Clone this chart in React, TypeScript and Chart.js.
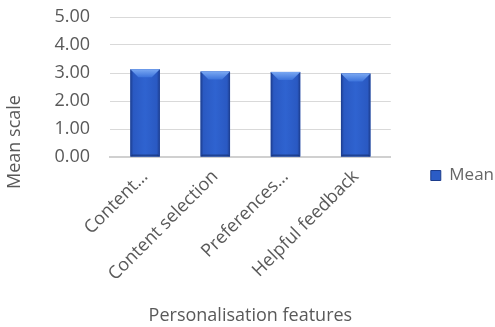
import React, { useEffect, useRef } from "react";
import { Chart, registerables } from "chart.js";

Chart.register(...registerables);

const categories = ["Content…", "Content selection", "Preferences…", "Helpful feedback"];
const meanValues = [3.13, 3.05, 3.04, 2.98];
const seriesName = "Mean";
const yMin = 0;
const yMax = 5;
const yStep = 1;
const xTitle = "Personalisation features";
const yTitle = "Mean scale";

const FONT = "'Open Sans', sans-serif";
const TEXT = "#595959";
const FS = 18;

const bevelPlugin = {
  id: "bevel",
  afterDatasetsDraw(chart: any) {
    const ctx = chart.ctx;
    const meta = chart.getDatasetMeta(0);
    ctx.save();
    meta.data.forEach((bar: any) => {
      const { x, y, base, width } = bar.getProps(["x", "y", "base", "width"], true);
      const l = x - width / 2;
      const r = x + width / 2;
      const g = ctx.createLinearGradient(l, 0, r, 0);
      g.addColorStop(0, "#1c3c8c");
      g.addColorStop(0.1, "#2a59c2");
      g.addColorStop(0.5, "#2f63d0");
      g.addColorStop(0.9, "#2a59c2");
      g.addColorStop(1, "#1c3c8c");
      ctx.fillStyle = g;
      ctx.fillRect(l, y, width, base - y);
      const b = Math.min(8, (base - y) / 2);
      const tg = ctx.createLinearGradient(0, y, 0, y + b);
      tg.addColorStop(0, "#7aa8f2");
      tg.addColorStop(1, "#3c73dc");
      ctx.fillStyle = tg;
      ctx.beginPath();
      ctx.moveTo(l, y);
      ctx.lineTo(r, y);
      ctx.lineTo(r - b, y + b);
      ctx.lineTo(l + b, y + b);
      ctx.closePath();
      ctx.fill();
      ctx.fillStyle = "rgba(15,35,90,0.5)";
      ctx.beginPath();
      ctx.moveTo(l, base);
      ctx.lineTo(r, base);
      ctx.lineTo(r - 2, base - 2);
      ctx.lineTo(l + 2, base - 2);
      ctx.closePath();
      ctx.fill();
    });
    ctx.restore();
  },
};

const yTitlePlugin = {
  id: "yTitle",
  afterDraw(chart: any) {
    const ctx = chart.ctx;
    ctx.save();
    ctx.translate(15, 142);
    ctx.rotate(-Math.PI / 2);
    ctx.font = `${FS}px ${FONT}`;
    ctx.fillStyle = TEXT;
    ctx.textAlign = "center";
    ctx.textBaseline = "middle";
    ctx.fillText(yTitle, 0, 0);
    ctx.restore();
  },
};

export default function App() {
  const ref = useRef<HTMLCanvasElement | null>(null);
  useEffect(() => {
    document.body.style.margin = "0";
    const chart = new Chart(ref.current as HTMLCanvasElement, {
      type: "bar",
      data: {
        labels: categories,
        datasets: [
          {
            label: seriesName,
            data: meanValues,
            backgroundColor: "#2b5cc6",
            borderWidth: 0,
            barPercentage: 0.42,
            categoryPercentage: 1,
          },
        ],
      },
      options: {
        animation: false,
        responsive: true,
        maintainAspectRatio: false,
        layout: { padding: { top: 0, left: 0, right: -9, bottom: 0 } },
        plugins: {
          tooltip: { enabled: false },
          legend: {
            position: "right",
            title: { display: true, text: "", font: { size: 10 }, padding: 6 },
            labels: {
              boxWidth: 10,
              boxHeight: 10,
              padding: 40,
              color: TEXT,
              font: { family: FONT, size: 17 },
              generateLabels: () => [
                {
                  text: seriesName,
                  fillStyle: "#2b5cc6",
                  strokeStyle: "#1c3c8c",
                  lineWidth: 1,
                  hidden: false,
                  datasetIndex: 0,
                },
              ],
            },
          },
        },
        scales: {
          x: {
            grid: { display: false, drawTicks: false },
            border: { color: "#d0d0d0", width: 2 },
            ticks: {
              color: TEXT,
              font: { family: FONT, size: FS },
              minRotation: 45,
              maxRotation: 45,
              padding: 9,
              autoSkip: false,
            },
            title: {
              display: true,
              text: xTitle,
              color: TEXT,
              font: { family: FONT, size: FS },
              padding: { top: 0, bottom: 0 },
            },
            afterFit: (s: any) => {
              s.height = 170;
              s.paddingTop = 0;
            },
          },
          y: {
            min: yMin,
            max: yMax,
            grid: { color: "#d9d9d9", drawTicks: false },
            border: { display: false },
            ticks: {
              stepSize: yStep,
              color: TEXT,
              font: { family: FONT, size: FS },
              padding: 20,
              callback: (v: any) => Number(v).toFixed(2),
            },
            afterFit: (s: any) => {
              s.width = 110;
              s.paddingTop = 17;
            },
          },
        },
      },
      plugins: [bevelPlugin, yTitlePlugin],
    } as any);
    return () => chart.destroy();
  }, []);
  return (
    <div style={{ position: "relative", width: 495, height: 327 }}>
      <canvas ref={ref} />
    </div>
  );
}
